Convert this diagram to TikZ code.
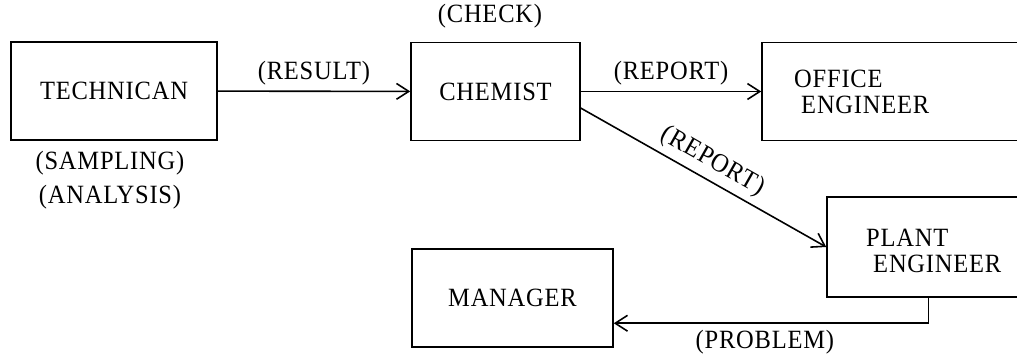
\documentclass[tikz,border=0pt]{standalone}
\usepackage{fontspec}
\setmainfont{Liberation Serif}[LetterSpace=3, FakeStretch=0.93]
\usetikzlibrary{arrows.meta}
\tikzset{
	box/.style = {draw, line width=.9pt, minimum height=1.96cm},
	flow/.style = {draw, line width=.9pt, -{Straight Barb[length=7pt, width=9pt]}}
}
\begin{document}
\begin{tikzpicture}[x = 0.02cm, y = -0.02cm, font = \fontsize{15}{15}\selectfont]
		\useasboundingbox (0,0) rectangle (1017,356);
		\node [box, minimum width=4.12cm] (tech) at (114,91) {TECHNICAN};
		\node [box, minimum width=3.38cm] (chem) at (495.5,91.5) {CHEMIST};
		\node [box, minimum width=5.36cm] (office) at (896,91.5) {};
		\node [anchor=west, align=left] (officetxt) at (788,92) {OFFICE\\\hspace{4pt}ENGINEER};
		\node [box, minimum width=4.06cm, minimum height=2cm] (plant) at (928.5,247) {};
		\node [anchor=west, align=left] (planttxt) at (860,251) {PLANT\\\hspace{4pt}ENGINEER};
		\node [box, minimum width=4.02cm] (mgr) at (512.5,298) {MANAGER};
		\node (check) at (490,16) {(CHECK)};
		\node (sampling) at (110,163) {(SAMPLING)};
		\node (analysis) at (110,197) {(ANALYSIS)};
		\path [flow] (tech) -- node [above] {(RESULT)} (chem);
		\path [flow] (chem) -- node [above] {(REPORT)} (office);
		\path [flow] (chem.-11) -- node [sloped, above] {(REPORT)} (plant.west);
		\path [flow] (plant.south) |- node [pos=.76, below] {(PROBLEM)} (mgr.-14);
	\end{tikzpicture}
\end{document}
